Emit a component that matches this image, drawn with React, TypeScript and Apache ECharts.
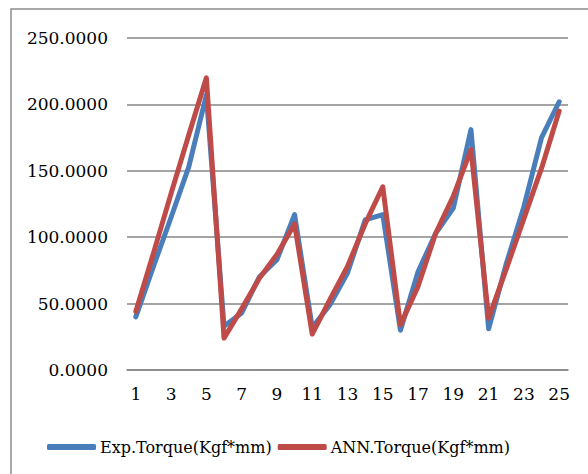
import React, { useEffect, useRef } from "react";
import * as echarts from "echarts";

const categories = Array.from({ length: 25 }, (_, i) => String(i + 1));
const expTorque = [40, 78, 115, 153, 207, 33, 43, 70, 83, 117, 32, 49, 73, 113, 117, 30, 74, 103, 122, 181, 31, 80, 123, 175, 202];
const annTorque = [44, 88, 133, 177, 220, 24, 46, 69, 87, 110, 27, 53, 78, 110, 138, 34, 63, 103, 131, 166, 39, 76, 114, 152, 195];
const seriesNames = ["Exp.Torque(Kgf*mm)", "ANN.Torque(Kgf*mm)"];

const FONT = "'DejaVu Serif'";

export default function App() {
  const ref = useRef<HTMLDivElement>(null);

  useEffect(() => {
    document.body.style.margin = "0";
    const chart = echarts.init(ref.current!, null, { renderer: "svg" });
    chart.setOption({
      animation: false,
      backgroundColor: "#ffffff",
      textStyle: { fontFamily: FONT },
      grid: { left: 127, right: 20, top: 38, bottom: 104 },
      graphic: [
        {
          type: "rect",
          shape: { x: 11, y: 9, width: 620, height: 520 },
          style: { fill: "none", stroke: "#8c8c8c", lineWidth: 1.5 },
          silent: true,
        },
      ],
      legend: {
        left: 42,
        top: 434,
        itemWidth: 49,
        itemHeight: 6,
        itemGap: 6,
        icon: "roundRect",
        textStyle: { fontFamily: FONT, fontSize: 16, color: "#000", padding: [0, 0, 0, -1] },
        data: seriesNames,
      },
      xAxis: {
        type: "category",
        data: categories,
        boundaryGap: true,
        axisLine: { show: true, lineStyle: { color: "#868686", width: 1.5 } },
        axisTick: { show: false },
        axisLabel: { interval: 1, margin: 15, fontFamily: FONT, fontSize: 17, color: "#000" },
      },
      yAxis: {
        type: "value",
        min: 0,
        max: 250,
        interval: 50,
        axisLine: { show: false },
        axisTick: { show: false },
        splitLine: { lineStyle: { color: "#868686", width: 1.5 } },
        axisLabel: {
          margin: 19,
          fontFamily: FONT,
          fontSize: 17,
          color: "#000",
          formatter: (v: number) => v.toFixed(4),
        },
      },
      series: [
        {
          name: seriesNames[0],
          type: "line",
          data: expTorque,
          symbol: "none",
          color: "#4A7EBB",
          lineStyle: { width: 5, color: "#4A7EBB", cap: "round", join: "round" },
        },
        {
          name: seriesNames[1],
          type: "line",
          data: annTorque,
          symbol: "none",
          color: "#BE4B48",
          lineStyle: { width: 5, color: "#BE4B48", cap: "round", join: "round" },
        },
      ],
    });
    return () => chart.dispose();
  }, []);

  return <div ref={ref} style={{ width: 588, height: 474 }} />;
}
